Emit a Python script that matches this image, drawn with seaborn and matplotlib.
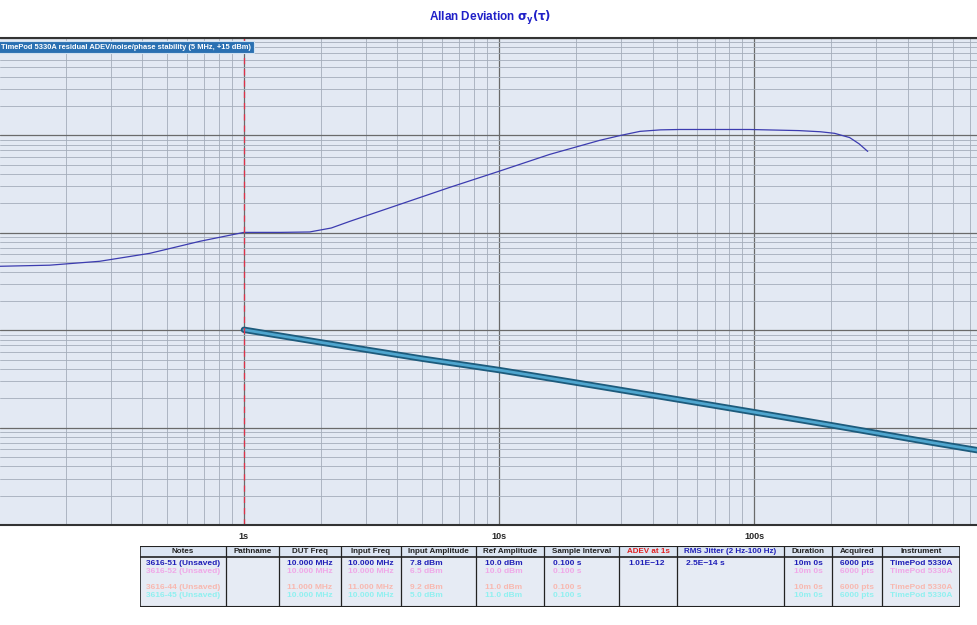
import numpy as np
import pandas as pd
import matplotlib
matplotlib.use("Agg")
import matplotlib.pyplot as plt
from matplotlib.patches import Rectangle
import seaborn as sns

# data
# upper trace (tau in s, value)
upper_tau = [0.110, 0.173, 0.272, 0.428, 0.672, 1.0, 1.4, 1.81, 2.2, 2.6, 4.09, 6.42,
             10.0, 15.8, 24.8, 30.0, 35.7, 43.0, 51.3, 96.0, 150.0, 182.0, 207.0,
             237.0, 258.0, 279.0]
upper_val = [4.53e-12, 4.65e-12, 5.10e-12, 6.16e-12, 8.18e-12, 1.01e-11, 1.01e-11,
             1.02e-11, 1.12e-11, 1.31e-11, 1.96e-11, 2.93e-11, 4.28e-11, 6.38e-11,
             8.89e-11, 1.0e-10, 1.10e-10, 1.14e-10, 1.15e-10, 1.15e-10, 1.12e-10,
             1.09e-10, 1.05e-10, 9.5e-11, 8.2e-11, 6.85e-11]
# ADEV trace
adev_tau = [1, 2, 5, 10, 20, 50, 100, 200, 500, 800]
adev_val = [1.01e-12, 7.5e-13, 5.1e-13, 3.9e-13, 2.9e-13, 1.95e-13, 1.44e-13,
            1.06e-13, 7.0e-14, 5.7e-14]

xtick_vals = [1, 10, 100]
xtick_labels = ["1s", "10s", "100s"]

legend_text = "TimePod 5330A residual ADEV/noise/phase stability (5 MHz, +15 dBm)"

# table
col_names = ["Notes", "Pathname", "DUT Freq", "Input Freq", "Input Amplitude",
             "Ref Amplitude", "Sample Interval", "ADEV at 1s",
             "RMS Jitter (2 Hz-100 Hz)", "Duration", "Acquired", "Instrument"]
row1 = ["3616-51 (Unsaved)", "", "10.000 MHz", "10.000 MHz", "7.8 dBm", "10.0 dBm",
        "0.100 s", "1.01E\u221212", "2.5E\u221214 s", "10m 0s", "6000 pts", "TimePod 5330A"]
row2 = ["3616-52 (Unsaved)", "", "10.000 MHz", "10.000 MHz", "6.5 dBm", "10.0 dBm",
        "0.100 s", "", "", "10m 0s", "6000 pts", "TimePod 5330A"]
row3 = ["", "", "", "", "", "", "", "", "", "", "", ""]
row4 = ["3616-44 (Unsaved)", "", "11.000 MHz", "11.000 MHz", "9.2 dBm", "11.0 dBm",
        "0.100 s", "", "", "10m 0s", "6000 pts", "TimePod 5330A"]
row5 = ["3616-45 (Unsaved)", "", "10.000 MHz", "10.000 MHz", "5.0 dBm", "11.0 dBm",
        "0.100 s", "", "", "10m 0s", "6000 pts", "TimePod 5330A"]
rows = [row1, row2, row3, row4, row5]
row_colors = ["#2020b8", "#f0a8e8", "#dff5df", "#f8b8b0", "#90f0f0"]
col_edges = [140, 226, 279, 341, 401, 476, 544, 619, 677, 784, 832, 882, 960]

sns.set_style("white")
plt.rcParams["font.family"] = ["Liberation Sans", "DejaVu Sans"]

fig = plt.figure(figsize=(9.78, 6.25), dpi=100)
ax = fig.add_axes([0, 1 - 525 / 625, 1, (525 - 38) / 625])
ax.set_facecolor("#e3e9f3")

ax.set_xscale("log")
ax.set_yscale("log")
ax.set_xlim(0.1106, 755)
ax.set_ylim(1e-14, 1e-9)

ax.grid(which="minor", color="#a4adba", lw=0.6)
ax.grid(which="major", color="#6a6a6a", lw=0.9)
ax.set_axisbelow(True)

up = pd.DataFrame({"tau": upper_tau, "val": upper_val})
ad = pd.DataFrame({"tau": adev_tau, "val": adev_val})
sns.lineplot(data=up, x="tau", y="val", ax=ax, color="#3c3cb0", lw=0.9)
sns.lineplot(data=ad, x="tau", y="val", ax=ax, color="#1d5b7c", lw=4.6)
sns.lineplot(data=ad, x="tau", y="val", ax=ax, color="#4fa6cf", lw=2.0)

ax.axvline(1, color="#e03048", ls=(0, (5, 4)), lw=0.9)

ax.set_xticks(xtick_vals)
ax.set_xticklabels(xtick_labels, fontsize=6.5, fontweight="bold")
ax.xaxis.set_minor_formatter(matplotlib.ticker.NullFormatter())
ax.set_yticklabels([], minor=False)
ax.yaxis.set_minor_formatter(matplotlib.ticker.NullFormatter())
ax.tick_params(which="both", length=0, pad=5)
ax.set_xlabel("")
ax.set_ylabel("")
for s in ["left", "right"]:
    ax.spines[s].set_visible(False)
for s in ["top", "bottom"]:
    ax.spines[s].set_color("#333333")
    ax.spines[s].set_linewidth(1.5)

ax.text(0.001, 0.988, legend_text, transform=ax.transAxes, ha="left", va="top",
        fontsize=5.4, fontweight="bold", color="white",
        bbox=dict(boxstyle="square,pad=0.35", fc="#2a70b2", ec="#cfe0f0", lw=0.8))

fig.text(490 / 978, 1 - 18 / 625, r"Allan Deviation $\mathbf{\sigma_y(\tau)}$",
         ha="center", va="center", fontsize=8.5, fontweight="bold", color="#2020c8")

# table
tax = fig.add_axes([140 / 978, 1 - 607 / 625, (960 - 140) / 978, (607 - 546) / 625])
tax.set_xlim(140, 960)
tax.set_ylim(607, 546)
tax.axis("off")
tax.add_patch(Rectangle((140, 546), 820, 61, fc="#e6ebf4", ec="none"))
tax.add_patch(Rectangle((140, 546), 820, 11, fc="#dce5f2", ec="none"))
for i, name in enumerate(col_names):
    cx = (col_edges[i] + col_edges[i + 1]) / 2
    tax.text(cx, 552, name, ha="center", va="center", fontsize=5.8, fontweight="bold",
             color="#e02020" if name == "ADEV at 1s" else ("#2020b8" if name.startswith("RMS") else "#222222"))
for r, (row, c) in enumerate(zip(rows, row_colors)):
    y = 564 + r * 8
    for i, val in enumerate(row):
        if not val:
            continue
        x0 = col_edges[i]
        if i in (0, 1, 2, 3, 10, 11, 9):
            tax.text((x0 + col_edges[i + 1]) / 2, y, val, ha="center", va="center",
                     fontsize=6, fontweight="bold", color=c)
        else:
            tax.text(x0 + 9, y, val, ha="left", va="center", fontsize=6,
                     fontweight="bold", color=c)
for xe in col_edges:
    tax.plot([xe, xe], [546, 607], color="#222222", lw=1.2 if xe in (140, 960) else 0.9)
tax.plot([140, 960], [546, 546], color="#222222", lw=1.5)
tax.plot([140, 960], [557, 557], color="#222222", lw=1.2)
tax.plot([140, 960], [607, 607], color="#222222", lw=1.5)

fig.savefig("out.png", dpi=100)
